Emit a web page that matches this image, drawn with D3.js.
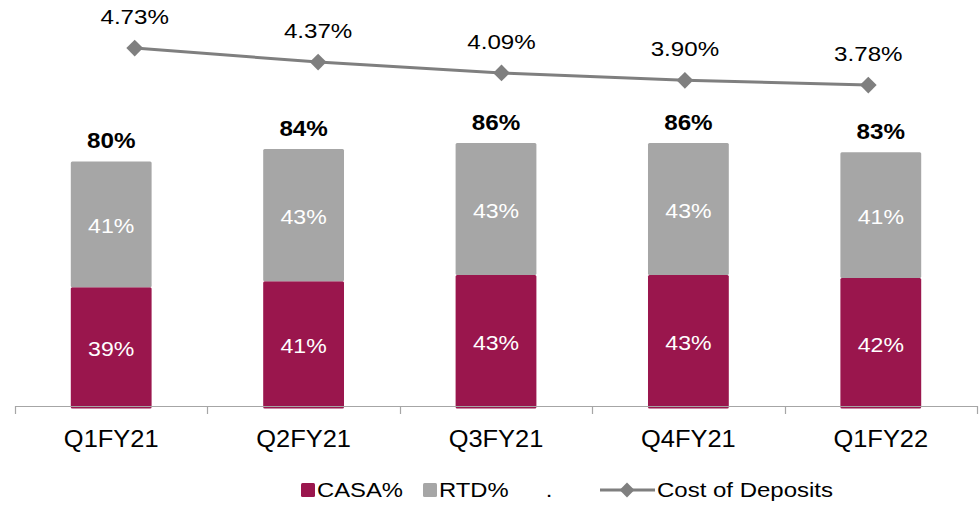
<!DOCTYPE html>
<html lang="en">
<head>
    <meta charset="UTF-8">
    <title>CASA, RTD and Cost of Deposits</title>
    <script src="https://d3js.org/d3.v7.min.js"></script>
    <style>
        body {
            margin: 0;
            padding: 0;
            background: #ffffff;
            font-family: Arial, "Liberation Sans", sans-serif;
        }
        svg {
            display: block;
        }
    </style>
</head>
<body>
    <svg width="980" height="512"></svg>

    <script>
        // Data
        const quarters = ["Q1FY21", "Q2FY21", "Q3FY21", "Q4FY21", "Q1FY22"];
        const casa = [39, 41, 43, 43, 42];
        const rtd = [41, 43, 43, 43, 41];
        const costOfDeposits = [4.73, 4.37, 4.09, 3.90, 3.78];

        const casaColor = "#9a164d";
        const rtdColor = "#a6a6a6";
        const lineColor = "#7f7f7f";

        const svg = d3.select("svg");

        // Scales
        const x = d3.scaleBand().domain(quarters).range([15, 977]).paddingInner(0.58).paddingOuter(0.29);
        const xLine = d3.scalePoint().domain(quarters).range([43, 960]).padding(0.5);
        const y = d3.scaleLinear().domain([0, 100]).range([407, 100]);
        const y2 = d3.scaleLinear().domain([3, 5]).range([115.4, 37.5]);

        // helper: text slightly stretched wide like the source image
        const addText = (px, py, str, size, sx, opts = {}) => {
            svg.append("text")
                .attr("transform", `translate(${px},${py}) scale(${sx},1)`)
                .attr("text-anchor", opts.anchor || "middle")
                .attr("fill", opts.fill || "#000")
                .style("font-size", size + "px")
                .style("font-weight", opts.bold ? "bold" : "normal")
                .text(str);
        };

        // Bars
        const rows = quarters.map((q, i) => ({ q, casa: casa[i], rtd: rtd[i] }));

        svg.selectAll(".casa")
            .data(rows)
            .enter().append("rect")
            .attr("class", "casa")
            .attr("x", d => x(d.q))
            .attr("y", d => y(d.casa))
            .attr("width", x.bandwidth())
            .attr("height", d => y(0) - y(d.casa) + 1.5)
            .attr("rx", 1.5)
            .attr("fill", casaColor);

        svg.selectAll(".rtd")
            .data(rows)
            .enter().append("rect")
            .attr("class", "rtd")
            .attr("x", d => x(d.q))
            .attr("y", d => y(d.casa + d.rtd))
            .attr("width", x.bandwidth())
            .attr("height", d => y(d.casa) - y(d.casa + d.rtd))
            .attr("rx", 1.5)
            .attr("fill", rtdColor);

        // X axis
        const axis = svg.append("g");
        axis.append("line")
            .attr("x1", 15).attr("x2", 977)
            .attr("y1", 406.5).attr("y2", 406.5)
            .attr("stroke", "#a6a6a6").attr("stroke-width", 1.2);
        const tickXs = [15].concat(quarters.map(q => x(q) + x.bandwidth() + (x.step() - x.bandwidth()) / 2));
        tickXs[tickXs.length - 1] = 977;
        axis.selectAll(".tick")
            .data(tickXs)
            .enter().append("line")
            .attr("x1", d => Math.round(d) + 0.5).attr("x2", d => Math.round(d) + 0.5)
            .attr("y1", 406).attr("y2", 414)
            .attr("stroke", "#a6a6a6").attr("stroke-width", 1.2);

        rows.forEach(d => {
            const cx = x(d.q) + x.bandwidth() / 2;
            addText(cx, 447, d.q, 24, 1.06);
            // in-bar labels
            addText(cx, (y(0) + y(d.casa)) / 2 + 9, d.casa + "%", 21, 1.1, { fill: "#fff" });
            addText(cx, (y(d.casa) + y(d.casa + d.rtd)) / 2 + 9, d.rtd + "%", 21, 1.1, { fill: "#fff" });
            // totals
            addText(cx, y(d.casa + d.rtd) - 13, (d.casa + d.rtd) + "%", 22, 1.1, { bold: true });
        });

        // Cost of deposits line
        const line = d3.line()
            .x((d, i) => xLine(quarters[i]))
            .y(d => y2(d));

        svg.append("path")
            .datum(costOfDeposits)
            .attr("d", line)
            .attr("fill", "none")
            .attr("stroke", lineColor)
            .attr("stroke-width", 3);

        svg.selectAll(".marker")
            .data(costOfDeposits)
            .enter().append("path")
            .attr("class", "marker")
            .attr("d", d3.symbol().type(d3.symbolSquare).size(140))
            .attr("transform", (d, i) => `translate(${xLine(quarters[i])},${y2(d)}) rotate(45)`)
            .attr("fill", lineColor);

        costOfDeposits.forEach((v, i) => {
            addText(xLine(quarters[i]), y2(v) - 24, v.toFixed(2) + "%", 21, 1.15);
        });

        // Legend
        const legend = svg.append("g");
        legend.append("rect").attr("x", 301).attr("y", 483).attr("width", 14).attr("height", 14)
            .attr("rx", 1.5).attr("fill", casaColor);
        addText(317, 497, "CASA%", 20, 1.19, { anchor: "start" });
        legend.append("rect").attr("x", 423).attr("y", 483).attr("width", 14).attr("height", 14)
            .attr("rx", 1.5).attr("fill", rtdColor);
        addText(439, 497, "RTD%", 20, 1.19, { anchor: "start" });
        addText(549, 497, ".", 20, 1.19);
        legend.append("line").attr("x1", 600).attr("x2", 655).attr("y1", 490).attr("y2", 490)
            .attr("stroke", lineColor).attr("stroke-width", 3);
        legend.append("path")
            .attr("d", d3.symbol().type(d3.symbolSquare).size(110))
            .attr("transform", "translate(627,490) rotate(45)")
            .attr("fill", lineColor);
        addText(657, 497, "Cost of Deposits", 20, 1.2, { anchor: "start" });
    </script>
</body>
</html>
